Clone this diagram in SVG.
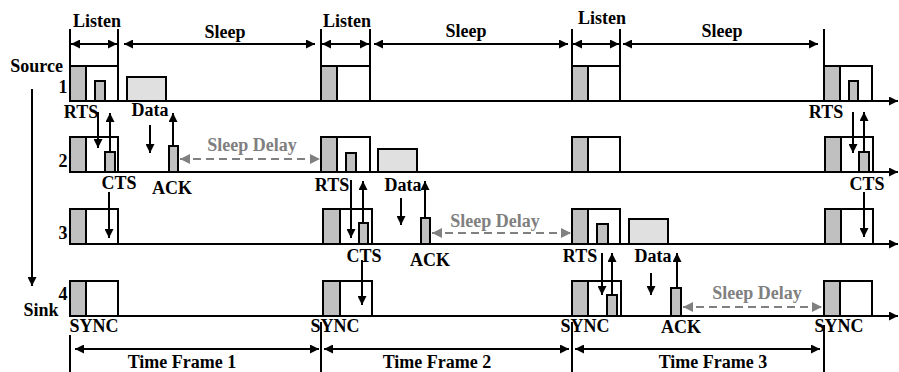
<svg xmlns="http://www.w3.org/2000/svg" width="899" height="372" viewBox="0 0 899 372">
<defs>
<marker id="ah" viewBox="0 0 10 10" refX="10" refY="5" markerWidth="12" markerHeight="9" markerUnits="userSpaceOnUse" orient="auto-start-reverse"><path d="M0,0 L10,5 L0,10 z" fill="#000"/></marker>
<marker id="ahg" viewBox="0 0 10 10" refX="10" refY="5" markerWidth="12" markerHeight="10" markerUnits="userSpaceOnUse" orient="auto-start-reverse"><path d="M0,0 L10,5 L0,10 z" fill="#808080"/></marker>
<style>
text{font-family:"Liberation Serif","Times New Roman",serif;font-weight:bold;font-size:18px;fill:#000}
text.g{fill:#808080}
.m{text-anchor:middle}
.e{text-anchor:end}
.ln{stroke:#000;stroke-width:2;fill:none}
.ar{stroke:#000;stroke-width:2;fill:none;marker-end:url(#ah)}
.da{stroke:#000;stroke-width:2;fill:none;marker-start:url(#ah);marker-end:url(#ah)}
.sd{stroke:#808080;stroke-width:2;fill:none;stroke-dasharray:8,5;marker-start:url(#ahg);marker-end:url(#ahg)}
.bx{fill:#fff;stroke:#000;stroke-width:2}
.gy{fill:#c0c0c0;stroke:#000;stroke-width:2}
.dt{fill:#e0e0e0;stroke:#000;stroke-width:2}
</style>
</defs>
<rect width="899" height="372" fill="#fff"/>

<!-- row baselines -->
<g id="timelines">
<line class="ar" x1="70" y1="101" x2="898" y2="101"/>
<line class="ar" x1="70" y1="172" x2="898" y2="172"/>
<line class="ar" x1="70" y1="244" x2="898" y2="244"/>
<line class="ar" x1="70" y1="316" x2="898" y2="316"/>
</g>

<!-- row 1 (Source) -->
<g id="row1">
<rect class="bx" x="70" y="66" width="48" height="35"/><rect class="gy" x="70" y="66" width="16" height="35"/>
<rect class="gy" x="95" y="81" width="10" height="20"/>
<rect class="dt" x="127" y="77" width="39" height="24"/>
<rect class="bx" x="321" y="66" width="49" height="35"/><rect class="gy" x="321" y="66" width="16" height="35"/>
<rect class="bx" x="572" y="66" width="48" height="35"/><rect class="gy" x="572" y="66" width="16" height="35"/>
<rect class="bx" x="824" y="66" width="48" height="35"/><rect class="gy" x="824" y="66" width="16" height="35"/>
<rect class="gy" x="849" y="81" width="9" height="20"/>
</g>

<!-- row 2 -->
<g id="row2">
<rect class="bx" x="70" y="137" width="48" height="35"/><rect class="gy" x="70" y="137" width="16" height="35"/>
<rect class="gy" x="105" y="152" width="10" height="20"/>
<rect class="gy" x="169" y="146" width="9" height="26"/>
<rect class="bx" x="321" y="137" width="49" height="35"/><rect class="gy" x="321" y="137" width="16" height="35"/>
<rect class="gy" x="346" y="153" width="10" height="19"/>
<rect class="dt" x="378" y="149" width="39" height="23"/>
<rect class="bx" x="572" y="137" width="48" height="35"/><rect class="gy" x="572" y="137" width="16" height="35"/>
<rect class="bx" x="825" y="137" width="48" height="35"/><rect class="gy" x="825" y="137" width="16" height="35"/>
<rect class="gy" x="859" y="152" width="10" height="20"/>
</g>

<!-- row 3 -->
<g id="row3">
<rect class="bx" x="70" y="209" width="48" height="35"/><rect class="gy" x="70" y="209" width="16" height="35"/>
<rect class="bx" x="323" y="209" width="49" height="35"/><rect class="gy" x="323" y="209" width="17" height="35"/>
<rect class="gy" x="359" y="223" width="9" height="21"/>
<rect class="gy" x="421" y="218" width="9" height="26"/>
<rect class="bx" x="572" y="209" width="48" height="35"/><rect class="gy" x="572" y="209" width="16" height="35"/>
<rect class="gy" x="597" y="224" width="11" height="20"/>
<rect class="dt" x="629" y="219" width="39" height="25"/>
<rect class="bx" x="825" y="209" width="48" height="35"/><rect class="gy" x="825" y="209" width="16" height="35"/>
</g>

<!-- row 4 (Sink) -->
<g id="row4">
<rect class="bx" x="70" y="281" width="48" height="35"/><rect class="gy" x="70" y="281" width="16" height="35"/>
<rect class="bx" x="323" y="281" width="49" height="35"/><rect class="gy" x="323" y="281" width="17" height="35"/>
<rect class="bx" x="572" y="281" width="49" height="35"/><rect class="gy" x="572" y="281" width="16" height="35"/>
<rect class="gy" x="607" y="295" width="10" height="21"/>
<rect class="gy" x="671" y="288" width="10" height="28"/>
<rect class="bx" x="824" y="281" width="48" height="35"/><rect class="gy" x="824" y="281" width="16" height="35"/>
</g>

<!-- listen / sleep markers -->
<g id="schedule">
<line class="ln" x1="70" y1="29" x2="70" y2="66"/>
<line class="ln" x1="118" y1="29" x2="118" y2="66"/>
<line class="ln" x1="321" y1="29" x2="321" y2="66"/>
<line class="ln" x1="370" y1="29" x2="370" y2="66"/>
<line class="ln" x1="572" y1="29" x2="572" y2="66"/>
<line class="ln" x1="620" y1="29" x2="620" y2="66"/>
<line class="ln" x1="824" y1="29" x2="824" y2="66"/>
<line class="da" x1="71" y1="44" x2="117" y2="44"/>
<line class="da" x1="124" y1="44" x2="315" y2="44"/>
<line class="da" x1="322" y1="44" x2="369" y2="44"/>
<line class="da" x1="374" y1="44" x2="568" y2="44"/>
<line class="da" x1="573" y1="44" x2="619" y2="44"/>
<line class="da" x1="623" y1="44" x2="818" y2="44"/>
<text class="m" x="97" y="27">Listen</text>
<text class="m" x="225" y="38">Sleep</text>
<text class="m" x="347" y="27">Listen</text>
<text class="m" x="466" y="37">Sleep</text>
<text class="m" x="602" y="24">Listen</text>
<text class="m" x="722" y="37">Sleep</text>
</g>

<!-- message connectors -->
<g id="connectors">
<line class="ar" x1="98" y1="112" x2="98" y2="148"/>
<line class="ar" x1="110" y1="152" x2="110" y2="113"/>
<line class="ar" x1="150" y1="125" x2="150" y2="153"/>
<line class="ar" x1="173" y1="146" x2="173" y2="113"/>
<line class="ar" x1="109" y1="192" x2="109" y2="238"/>
<line class="ar" x1="351" y1="180" x2="351" y2="238"/>
<line class="ar" x1="363" y1="223" x2="363" y2="181"/>
<line class="ar" x1="401" y1="198" x2="401" y2="225"/>
<line class="ar" x1="425" y1="218" x2="425" y2="181"/>
<line class="ar" x1="362" y1="260" x2="362" y2="305"/>
<line class="ar" x1="602" y1="253" x2="602" y2="295"/>
<line class="ar" x1="612" y1="295" x2="612" y2="253"/>
<line class="ar" x1="651" y1="273" x2="651" y2="295"/>
<line class="ar" x1="677" y1="288" x2="677" y2="253"/>
<line class="ar" x1="853" y1="112" x2="853" y2="153"/>
<line class="ar" x1="864" y1="152" x2="864" y2="112"/>
<line class="ar" x1="864" y1="192" x2="864" y2="237"/>
<line class="sd" x1="180" y1="159" x2="320" y2="159"/>
<line class="sd" x1="432" y1="233" x2="571" y2="233"/>
<line class="sd" x1="683" y1="307" x2="822" y2="307"/>
<line class="ar" x1="32" y1="89" x2="32" y2="286"/>
</g>

<!-- labels -->
<g id="labels">
<text class="e" x="63" y="72">Source</text>
<text class="m" x="63" y="93">1</text>
<text class="m" x="63" y="167">2</text>
<text class="m" x="63" y="239">3</text>
<text class="m" x="63" y="300">4</text>
<text class="m" x="41" y="316">Sink</text>
<text class="m" x="81" y="118">RTS</text>
<text class="m" x="150" y="116">Data</text>
<text class="m" x="119" y="189">CTS</text>
<text class="m" x="172" y="194">ACK</text>
<text class="m g" x="252" y="151">Sleep Delay</text>
<text class="m" x="332" y="191">RTS</text>
<text class="m" x="403" y="191">Data</text>
<text class="m" x="364" y="262">CTS</text>
<text class="m" x="430" y="266">ACK</text>
<text class="m g" x="495" y="227">Sleep Delay</text>
<text class="m" x="580" y="262">RTS</text>
<text class="m" x="653" y="262">Data</text>
<text class="m" x="681" y="333">ACK</text>
<text class="m g" x="757" y="299">Sleep Delay</text>
<text class="m" x="826" y="118">RTS</text>
<text class="m" x="867" y="190">CTS</text>
<text class="m" x="94" y="332">SYNC</text>
<text class="m" x="335" y="332">SYNC</text>
<text class="m" x="585" y="332">SYNC</text>
<text class="m" x="839" y="332">SYNC</text>
</g>

<!-- time frames -->
<g id="frames">
<line class="ln" x1="70" y1="335" x2="70" y2="372"/>
<line class="ln" x1="321" y1="322" x2="321" y2="372"/>
<line class="ln" x1="572" y1="322" x2="572" y2="372"/>
<line class="ln" x1="824" y1="325" x2="824" y2="372"/>
<line class="da" x1="75" y1="349" x2="319" y2="349"/>
<line class="da" x1="324" y1="349" x2="569" y2="349"/>
<line class="da" x1="575" y1="349" x2="820" y2="349"/>
<text class="m" x="182" y="368">Time Frame 1</text>
<text class="m" x="437" y="368">Time Frame 2</text>
<text class="m" x="713" y="368">Time Frame 3</text>
</g>
</svg>
